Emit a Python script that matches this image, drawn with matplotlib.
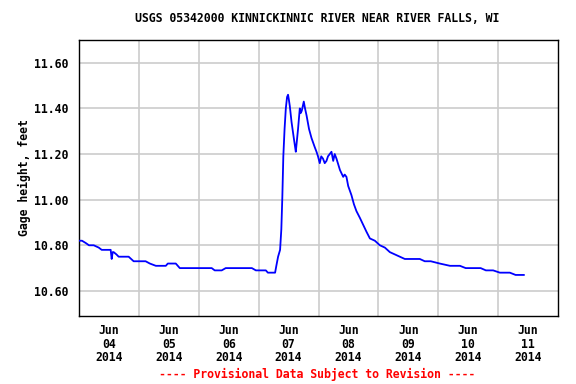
import matplotlib
matplotlib.use("Agg")
import matplotlib.pyplot as plt
import pandas as pd

# hours since 2014-06-04 00:00 and gage height (ft)
hours = [0.0, 1.2, 2.7, 4.0, 5.9, 7.9, 9.1, 11.0, 12.7, 13.1, 13.5, 13.9, 15.0, 15.9,
         18.0, 19.9, 21.9, 24.0, 26.7, 28.4, 30.8, 33.0, 34.8, 35.6, 37.0, 38.8, 40.4,
         44.0, 48.0, 50.0, 53.2, 54.4, 57.2, 58.8, 62.0, 66.0, 69.3, 70.9, 74.9, 75.7,
         78.6, 79.1, 79.8, 80.6, 81.1, 81.5, 81.9, 82.4, 82.9, 83.4, 83.8, 84.1, 84.5,
         85.2, 86.1, 86.5, 86.9, 87.8, 88.5, 88.9, 89.3, 89.7, 90.1, 90.6, 91.2, 92.2,
         93.2, 94.5, 95.2, 95.8, 96.5, 97.1, 97.8, 98.5, 99.2, 99.8, 100.5, 101.2, 101.9,
         102.5, 103.2, 104.6, 105.9, 106.5, 107.2, 107.9, 109.2, 110.2, 111.2, 112.6,
         113.9, 115.2, 116.6, 118.6, 120.6, 122.6, 124.6, 126.6, 128.6, 130.6, 133.0,
         136.6, 138.6, 141.0, 144.6, 148.7, 152.7, 155.0, 158.7, 161.0, 163.1, 166.0,
         168.7, 172.7, 175.0, 178.3]
heights = [10.82, 10.82, 10.81, 10.80, 10.80, 10.79, 10.78, 10.78, 10.78, 10.74, 10.77, 10.77, 10.76, 10.75,
           10.75, 10.75, 10.73, 10.73, 10.73, 10.72, 10.71, 10.71, 10.71, 10.72, 10.72, 10.72, 10.70,
           10.70, 10.70, 10.70, 10.70, 10.69, 10.69, 10.70, 10.70, 10.70, 10.70, 10.69, 10.69, 10.68,
           10.68, 10.71, 10.75, 10.78, 10.87, 11.01, 11.19, 11.31, 11.40, 11.45, 11.46, 11.44, 11.41,
           11.34, 11.27, 11.24, 11.21, 11.31, 11.40, 11.38, 11.39, 11.41, 11.43, 11.40, 11.37, 11.31,
           11.27, 11.23, 11.21, 11.19, 11.16, 11.19, 11.18, 11.16, 11.17, 11.19, 11.20, 11.21, 11.17,
           11.20, 11.18, 11.13, 11.10, 11.11, 11.10, 11.06, 11.02, 10.98, 10.95, 10.92,
           10.89, 10.86, 10.83, 10.82, 10.80, 10.79, 10.77, 10.76, 10.75, 10.74, 10.74,
           10.74, 10.73, 10.73, 10.72, 10.71, 10.71, 10.70, 10.70, 10.70, 10.69, 10.69,
           10.68, 10.68, 10.67, 10.67]

title = "USGS 05342000 KINNICKINNIC RIVER NEAR RIVER FALLS, WI"
ylabel = "Gage height, feet"
footer = "---- Provisional Data Subject to Revision ----"
yticks = [10.60, 10.80, 11.00, 11.20, 11.40, 11.60]

start = pd.Timestamp("2014-06-04 00:00")
times = [start + pd.Timedelta(hours=h) for h in hours]

FONT = "DejaVu Sans Mono"
FS = 8.3

fig = plt.figure(figsize=(5.76, 3.84), dpi=100)
ax = fig.add_axes([79 / 576, 1 - 316 / 384, (558 - 79) / 576, (316 - 40) / 384])

ax.plot(times, heights, color="#0000FF", linewidth=1.3, zorder=3)

ax.set_xlim(start, start + pd.Timedelta(days=8))
ax.set_ylim(10.49, 11.70)

ax.set_yticks(yticks)
ax.set_yticklabels([f"{v:.2f}" for v in yticks], fontfamily=FONT, fontweight="bold", fontsize=FS)

noon = [start + pd.Timedelta(hours=12 + 24 * i) for i in range(8)]
midn = [start + pd.Timedelta(days=i) for i in range(1, 8)]
ax.set_xticks(noon)
ax.set_xticklabels([t.strftime("%b\n%d\n%Y") for t in noon], fontfamily=FONT,
                   fontweight="bold", fontsize=FS, linespacing=1.02)
ax.set_xticks(midn, minor=True)

ax.grid(False)
ax.grid(True, which="minor", axis="x", color="#cccccc", linewidth=1.2)
ax.grid(True, which="major", axis="y", color="#cccccc", linewidth=1.2)
ax.set_axisbelow(True)
ax.tick_params(axis="both", which="both", length=0)
ax.tick_params(axis="y", pad=8)
ax.tick_params(axis="x", pad=6)
for s in ax.spines.values():
    s.set_linewidth(1.0)
    s.set_color("black")

ax.set_ylabel(ylabel, fontfamily=FONT, fontweight="bold", fontsize=FS, labelpad=2)

fig.text(0.551, 0.952, title, ha="center", va="center", fontfamily=FONT,
         fontweight="bold", fontsize=FS)
fig.text(0.551, 0.024, footer, ha="center", va="center", fontfamily=FONT,
         fontweight="bold", fontsize=FS, color="#FF0000")

fig.savefig("out.png", dpi=100)
